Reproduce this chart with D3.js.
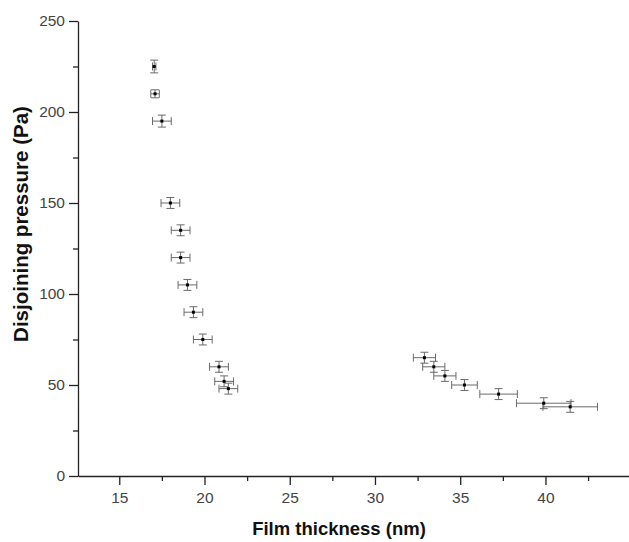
<!DOCTYPE html>
<html>
<head>
<meta charset="utf-8">
<script src="https://cdn.jsdelivr.net/npm/d3@7"></script>
<style>
  body { margin: 0; background: #fff; }
  svg { display: block; }
</style>
</head>
<body>
<svg></svg>
<script>
// Data
const thickness = [17.05, 17.1, 17.5, 18.0, 18.6, 18.6, 19.0, 19.35, 19.9, 20.85, 21.15, 21.4,
                   32.9, 33.45, 34.1, 35.25, 37.25, 39.9, 41.45];
const pressure  = [225, 210, 195, 150, 135, 120, 105, 90, 75, 60, 52, 48,
                   65, 60, 55, 50, 45, 40, 38];
const xErr = [0.1, 0.25, 0.55, 0.55, 0.55, 0.55, 0.55, 0.55, 0.55, 0.55, 0.55, 0.55,
              0.65, 0.65, 0.65, 0.75, 1.1, 1.6, 1.6];
const yErr = [3.5, 2.2, 3.3, 3, 3, 3, 3, 3, 3, 3, 3, 3,
              3, 3, 3, 3, 3, 3, 3];
const xTicks = [15, 20, 25, 30, 35, 40];
const yTicks = [0, 50, 100, 150, 200, 250];

const width = 629, height = 542;
const svg = d3.select("svg").attr("width", width).attr("height", height);

const x = d3.scaleLinear().domain([12.58, 44.9]).range([78, 629]);
const y = d3.scaleLinear().domain([0, 250]).range([476, 21]);

const data = thickness.map((t, i) => ({ x: t, y: pressure[i], ex: xErr[i], ey: yErr[i] }));

// Axes
svg.append("g").attr("transform", `translate(0,${y(0)})`)
  .call(d3.axisBottom(x).tickValues(xTicks).tickSize(9).tickPadding(7).tickSizeOuter(0));
svg.append("g").attr("transform", `translate(0,${y(0)})`)
  .call(d3.axisBottom(x).tickValues(d3.range(17.5, 44, 5)).tickSize(5).tickFormat("").tickSizeOuter(0))
  .select(".domain").remove();

svg.append("g").attr("transform", `translate(${x.range()[0]},0)`)
  .call(d3.axisLeft(y).tickValues(yTicks).tickSize(9).tickPadding(4).tickSizeOuter(0));
svg.append("g").attr("transform", `translate(${x.range()[0]},0)`)
  .call(d3.axisLeft(y).tickValues([25, 75, 125, 175, 225]).tickSize(5).tickFormat("").tickSizeOuter(0))
  .select(".domain").remove();

svg.selectAll(".domain, .tick line").attr("stroke", "#222").attr("stroke-width", 1.3);
svg.selectAll(".tick text")
  .attr("font-family", "Liberation Sans, Arial, sans-serif")
  .attr("font-size", 15.5)
  .attr("fill", "#444");

// Axis titles
svg.append("text")
  .attr("x", 339).attr("y", 535)
  .attr("text-anchor", "middle")
  .attr("font-family", "Liberation Sans, Arial, sans-serif")
  .attr("font-weight", "bold")
  .attr("font-size", 18.5)
  .attr("fill", "#111")
  .text("Film thickness (nm)");

svg.append("text")
  .attr("transform", "translate(28,224) rotate(-90)")
  .attr("text-anchor", "middle")
  .attr("font-family", "Liberation Sans, Arial, sans-serif")
  .attr("font-weight", "bold")
  .attr("font-size", 20.5)
  .attr("fill", "#111")
  .text("Disjoining pressure (Pa)");

// Error bars
const cap = 4;
const err = svg.append("g").attr("stroke", "#6a6a6a").attr("stroke-width", 1).attr("fill", "none");
const pts = err.selectAll("g").data(data).join("g");

pts.append("line")
  .attr("x1", d => x(d.x - d.ex)).attr("x2", d => x(d.x + d.ex))
  .attr("y1", d => y(d.y)).attr("y2", d => y(d.y));
pts.append("line")
  .attr("x1", d => x(d.x - d.ex)).attr("x2", d => x(d.x - d.ex))
  .attr("y1", d => y(d.y) - cap).attr("y2", d => y(d.y) + cap);
pts.append("line")
  .attr("x1", d => x(d.x + d.ex)).attr("x2", d => x(d.x + d.ex))
  .attr("y1", d => y(d.y) - cap).attr("y2", d => y(d.y) + cap);

pts.append("line")
  .attr("x1", d => x(d.x)).attr("x2", d => x(d.x))
  .attr("y1", d => y(d.y - d.ey)).attr("y2", d => y(d.y + d.ey));
pts.append("line")
  .attr("x1", d => x(d.x) - cap).attr("x2", d => x(d.x) + cap)
  .attr("y1", d => y(d.y + d.ey)).attr("y2", d => y(d.y + d.ey));
pts.append("line")
  .attr("x1", d => x(d.x) - cap).attr("x2", d => x(d.x) + cap)
  .attr("y1", d => y(d.y - d.ey)).attr("y2", d => y(d.y - d.ey));

// Markers
svg.append("g").selectAll("rect").data(data).join("rect")
  .attr("x", d => x(d.x) - 1.5)
  .attr("y", d => y(d.y) - 1.5)
  .attr("width", 3).attr("height", 3)
  .attr("fill", "#000");
</script>
</body>
</html>
